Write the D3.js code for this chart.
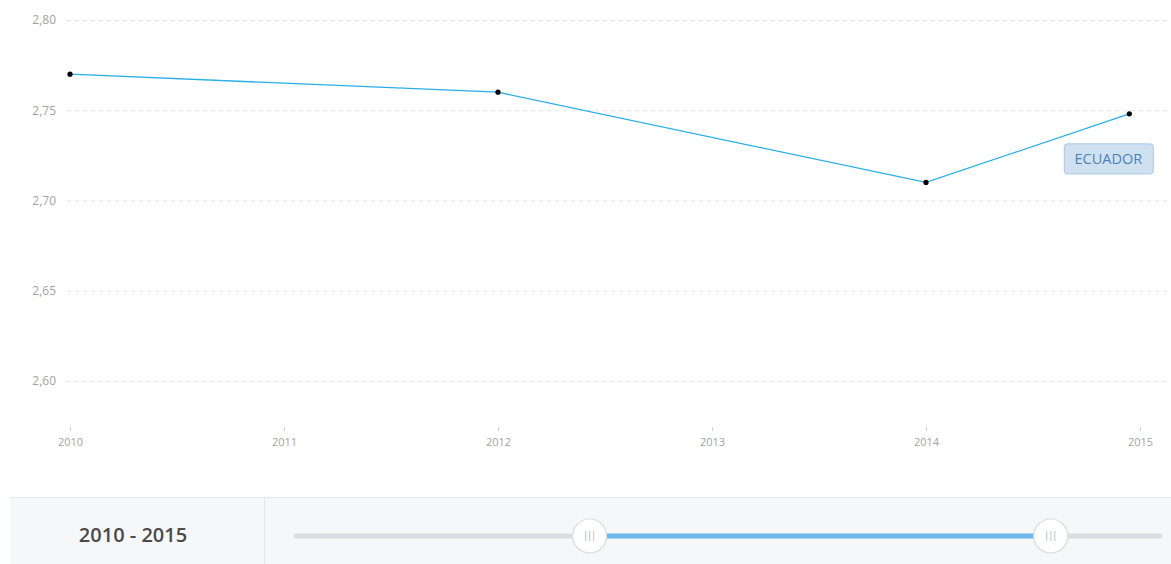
<!DOCTYPE html>
<meta charset="utf-8">
<style>
body { margin: 0; background: #fff; font-family: "Open Sans", sans-serif; }
.grid line { stroke: #e2e2e2; stroke-dasharray: 4,4; }
.grid .domain { display: none; }
.y.axis text, .x.axis text { fill: #a3a3a3; }
.y.axis .domain, .y.axis line { display: none; }
.x.axis .domain { display: none; }
.x.axis line { stroke: #cfcfcf; }
.line { fill: none; stroke: #29aee9; stroke-width: 1.3px; }
</style>
<body>
<script src="https://d3js.org/d3.v7.min.js"></script>
<script>
// data
var years = [2010, 2012, 2014, 2014.95];
var values = [2.77, 2.76, 2.71, 2.748];
var yTicks = [2.60, 2.65, 2.70, 2.75, 2.80];
var xTicks = [2010, 2011, 2012, 2013, 2014, 2015];
var seriesName = "ECUADOR";
var rangeLabel = ["2010", "2015"];
var sliderDomain = [2007, 2016];

var W = 1171, H = 564;

var svg = d3.select("body").append("svg")
    .attr("width", W)
    .attr("height", H);

// scales
var x = d3.scaleLinear().domain([2010, 2015]).range([70, 1140]);
var y = d3.scaleLinear().domain([2.60, 2.80]).range([381, 20]);
var fmt = function(d) { return d3.format(".2f")(d).replace(".", ","); };

// gridlines
svg.append("g")
    .attr("class", "grid")
    .attr("transform", "translate(67,0)")
    .call(d3.axisLeft(y).tickValues(yTicks).tickSize(-1101).tickFormat(""));

// y axis labels
svg.append("g")
    .attr("class", "y axis")
    .attr("transform", "translate(60,0)")
    .call(d3.axisLeft(y).tickValues(yTicks).tickSize(0).tickPadding(4).tickFormat(fmt))
    .selectAll("text").style("font-size", "12px").style("font-family", "Open Sans");

// x axis
var xa = svg.append("g")
    .attr("class", "x axis")
    .attr("transform", "translate(0,427)")
    .call(d3.axisBottom(x).tickValues(xTicks).tickSize(4).tickPadding(7).tickFormat(d3.format("d")));
xa.selectAll("text").style("font-size", "11px").style("font-family", "Open Sans");

// line
var pts = years.map(function(d, i) { return [d, values[i]]; });
var valueline = d3.line()
    .x(function(d) { return x(d[0]); })
    .y(function(d) { return y(d[1]); });

svg.append("path")
    .datum(pts)
    .attr("class", "line")
    .attr("d", valueline);

svg.selectAll(".dot")
    .data(pts).enter()
    .append("circle")
    .attr("cx", function(d) { return x(d[0]); })
    .attr("cy", function(d) { return y(d[1]); })
    .attr("r", 2.6)
    .attr("fill", "#000");

// series label
var last = pts[pts.length - 1];
var lab = svg.append("g")
    .attr("transform", "translate(" + (x(last[0]) - 21) + "," + (y(last[1]) + 45) + ")");
lab.append("rect")
    .attr("x", -44).attr("y", -15)
    .attr("width", 89).attr("height", 30)
    .attr("rx", 3)
    .attr("fill", "#cfe1f1")
    .attr("stroke", "#a3c7e6");
lab.append("text")
    .attr("text-anchor", "middle")
    .attr("dy", "0.35em")
    .style("font-size", "14.5px")
    .style("fill", "#4d82b8")
    .text(seriesName);

// bottom panel
var panel = svg.append("g").attr("transform", "translate(0,497)");
panel.append("rect")
    .attr("x", 10).attr("width", W - 10).attr("height", H - 497)
    .attr("fill", "#f6f7f9");
panel.append("line")
    .attr("x1", 10).attr("x2", W).attr("y1", 0.5).attr("y2", 0.5)
    .attr("stroke", "#e4e7eb");
panel.append("line")
    .attr("x1", 264.5).attr("x2", 264.5).attr("y1", 0).attr("y2", H - 497)
    .attr("stroke", "#e4e7eb");
panel.append("text")
    .attr("x", 133).attr("y", 45)
    .attr("text-anchor", "middle")
    .style("font-size", "20px")
    .style("font-weight", "600")
    .style("fill", "#4a4a4a")
    .text(rangeLabel[0] + " - " + rangeLabel[1]);

// slider
var s = d3.scaleLinear().domain(sliderDomain).range([313, 1143]);
var ty = 39;
panel.append("line")
    .attr("x1", 296).attr("x2", 1160).attr("y1", ty).attr("y2", ty)
    .attr("stroke", "#d9dee4").attr("stroke-width", 5).attr("stroke-linecap", "round");
panel.append("line")
    .attr("x1", s(+rangeLabel[0])).attr("x2", s(+rangeLabel[1])).attr("y1", ty).attr("y2", ty)
    .attr("stroke", "#6cbbee").attr("stroke-width", 5);

var handles = panel.selectAll(".handle")
    .data(rangeLabel.map(Number)).enter()
    .append("g")
    .attr("transform", function(d) { return "translate(" + s(d) + "," + ty + ")"; });
handles.append("circle")
    .attr("r", 17)
    .attr("fill", "#fff")
    .attr("stroke", "#d8dde3")
    .attr("stroke-width", 1.2);
[-4, 0, 4].forEach(function(dx) {
  handles.append("line")
      .attr("x1", dx).attr("x2", dx).attr("y1", -5).attr("y2", 5)
      .attr("stroke", "#cfd3d8").attr("stroke-width", 1.3);
});
</script>
</body>
